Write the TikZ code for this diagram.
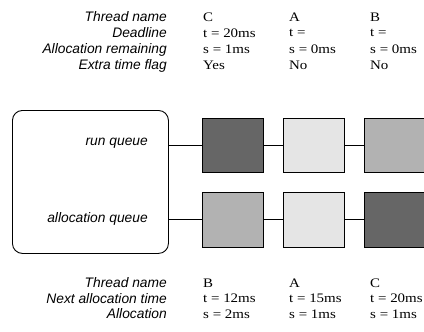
\documentclass[tikz,border=0pt]{standalone}
\usepackage{fontspec}
\setmainfont{Liberation Serif}
\setsansfont{Liberation Sans}
\newfontfamily\valfont[FakeStretch=1.15]{Liberation Serif}
\begin{document}
\begin{tikzpicture}[x=1pt,y=-1pt,
  lbl/.style={anchor=east,inner sep=0pt,font=\sffamily\itshape\fontsize{13.8}{16}\selectfont},
  val/.style={anchor=west,inner sep=0pt,font=\valfont\fontsize{13}{15}\selectfont},
  qbox/.style={draw=black,line width=0.9pt,minimum width=61pt,minimum height=54.5pt,inner sep=0pt,anchor=north west},
  dark/.style={qbox,fill=black!60},
  mid/.style={qbox,fill=black!30},
  light/.style={qbox,fill=black!10},
  link/.style={draw=black,line width=0.9pt}]
\useasboundingbox (0,0) rectangle (424,332);
\clip (0,0) rectangle (424,332);
% top table
\node[lbl] (t1) at (167,17) {Thread name};
\node[lbl] (t2) at (167,33) {Deadline};
\node[lbl] (t3) at (167,49.5) {Allocation remaining};
\node[lbl] (t4) at (167,65.5) {Extra time flag};
\node[val] (c1) at (203,17) {C};
\node[val] (c2) at (203,33) {t = 20ms};
\node[val] (c3) at (203,49.5) {s = 1ms};
\node[val] (c4) at (203,65.5) {Yes};
\node[val] (a1) at (289,17) {A};
\node[val] (a2) at (289,33) {t =};
\node[val] (a3) at (289,49.5) {s = 0ms};
\node[val] (a4) at (289,65.5) {No};
\node[val] (b1) at (370,17) {B};
\node[val] (b2) at (370,33) {t =};
\node[val] (b3) at (370,49.5) {s = 0ms};
\node[val] (b4) at (370,65.5) {No};
% scheduler box
\node[draw=black,line width=0.9pt,rounded corners=10pt,minimum width=156pt,minimum height=143pt,anchor=north west,inner sep=0pt] (sched) at (12,110) {};
\node[lbl] (rq) at (148,143.5) {run queue};
\node[lbl] (aq) at (148,218.5) {allocation queue};
% run queue boxes
\node[dark] (r1) at (202,117.5) {};
\node[light] (r2) at (283,117.5) {};
\node[mid] (r3) at (364,117.5) {};
% allocation queue boxes
\node[mid] (q1) at (202,192) {};
\node[light] (q2) at (283,192) {};
\node[dark] (q3) at (364,192) {};
\draw[link] (sched.east |- r1.west) -- (r1.west);
\draw[link] (r1.east) -- (r2.west);
\draw[link] (r2.east) -- (r3.west);
\draw[link] (sched.east |- q1.west) -- (q1.west);
\draw[link] (q1.east) -- (q2.west);
\draw[link] (q2.east) -- (q3.west);
% bottom table
\node[lbl] (u1) at (167,283) {Thread name};
\node[lbl] (u2) at (167,298.5) {Next allocation time};
\node[lbl] (u3) at (167,314) {Allocation};
\node[val] (d1) at (203,283) {B};
\node[val] (d2) at (203,298.5) {t = 12ms};
\node[val] (d3) at (203,314) {s = 2ms};
\node[val] (e1) at (289,283) {A};
\node[val] (e2) at (289,298.5) {t = 15ms};
\node[val] (e3) at (289,314) {s = 1ms};
\node[val] (f1) at (370,283) {C};
\node[val] (f2) at (370,298.5) {t = 20ms};
\node[val] (f3) at (370,314) {s = 1ms};
\end{tikzpicture}
\end{document}
